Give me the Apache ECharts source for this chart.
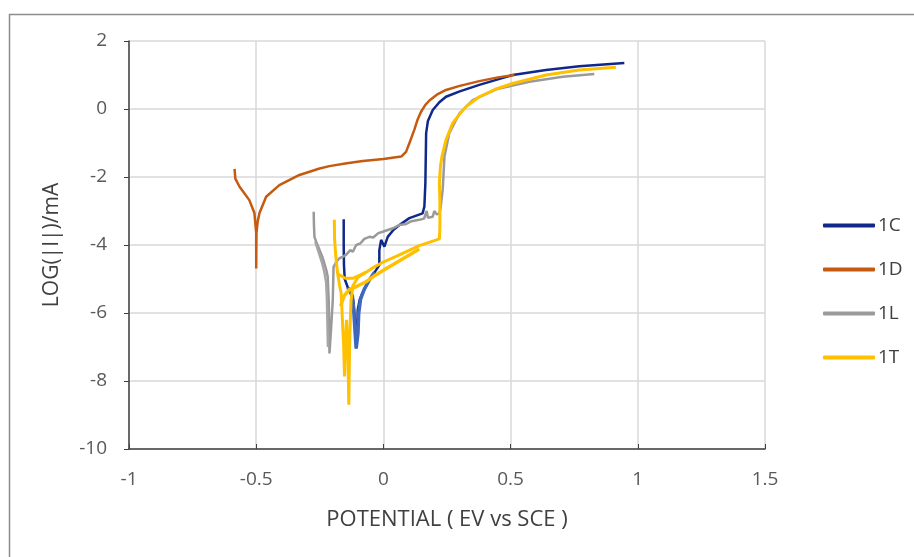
<!DOCTYPE html>
<html>
<head>
<meta charset="utf-8">
<script src="https://cdn.jsdelivr.net/npm/echarts@6/dist/echarts.min.js"></script>
<style>
html,body{margin:0;padding:0;background:#fff;}
#chart{width:914px;height:557px;}
</style>
</head>
<body>
<div id="chart"></div>
<script>
// ---- Data (potential V vs SCE, log|I|) ----
var seriesNames = ['1C', '1D', '1L', '1T'];
var xTicks = [-1, -0.5, 0, 0.5, 1, 1.5];
var yTicks = [-10, -8, -6, -4, -2, 0, 2];

var data1C = [
  [-0.156,-3.24],[-0.156,-4.0],[-0.155,-4.6],[-0.152,-5.0],[-0.14,-5.25],[-0.125,-5.4],
  [-0.117,-5.7],[-0.112,-6.2],[-0.109,-6.7],[-0.107,-7.04],[-0.103,-6.6],[-0.101,-5.91],
  [-0.093,-5.6],[-0.083,-5.42],[-0.055,-5.03],[-0.029,-4.74],[-0.016,-4.59],[-0.016,-4.15],
  [-0.009,-3.85],[0.004,-4.05],[0.017,-3.76],[0.04,-3.55],[0.063,-3.41],[0.102,-3.21],
  [0.154,-3.07],[0.161,-2.87],[0.165,-2.18],[0.168,-0.71],[0.175,-0.35],[0.194,-0.03],
  [0.22,0.2],[0.246,0.36],[0.3,0.52],[0.377,0.71],[0.45,0.87],[0.508,1.0],[0.639,1.15],
  [0.77,1.26],[0.947,1.35]
];
var data1Cb = [
  [-0.14,-5.25],[-0.122,-5.5],[-0.116,-6.0],[-0.111,-6.6],[-0.107,-7.04],[-0.1,-6.6],
  [-0.097,-6.0],[-0.09,-5.6],[-0.075,-5.3],[-0.055,-5.03],[-0.035,-4.8]
];
var data1D = [
  [-0.585,-1.76],[-0.582,-2.05],[-0.566,-2.28],[-0.527,-2.68],[-0.507,-3.06],[-0.5,-3.65],
  [-0.5,-4.69],[-0.499,-3.65],[-0.494,-3.3],[-0.487,-3.06],[-0.461,-2.58],[-0.409,-2.24],
  [-0.33,-1.94],[-0.251,-1.75],[-0.212,-1.68],[-0.15,-1.6],[-0.081,-1.53],[0.0,-1.47],
  [0.07,-1.4],[0.089,-1.26],[0.105,-0.95],[0.122,-0.6],[0.135,-0.3],[0.148,-0.08],
  [0.165,0.12],[0.181,0.25],[0.21,0.42],[0.246,0.56],[0.3,0.68],[0.377,0.82],[0.45,0.93],
  [0.515,1.0]
];
var data1L = [
  [-0.274,-3.02],[-0.273,-3.4],[-0.271,-3.76],[-0.262,-3.95],[-0.251,-4.15],[-0.24,-4.35],
  [-0.232,-4.54],[-0.224,-4.75],[-0.219,-4.93],[-0.217,-5.3],[-0.215,-5.62],[-0.213,-6.4],
  [-0.212,-7.19],[-0.206,-6.5],[-0.199,-5.62],[-0.197,-5.0],[-0.196,-4.64],[-0.185,-4.5],
  [-0.173,-4.39],[-0.16,-4.35],[-0.147,-4.29],[-0.13,-4.15],[-0.12,-4.2],[-0.107,-4.0],
  [-0.09,-3.95],[-0.075,-3.82],[-0.055,-3.76],[-0.04,-3.78],[-0.02,-3.65],[-0.003,-3.61],
  [0.02,-3.55],[0.04,-3.5],[0.063,-3.41],[0.09,-3.38],[0.11,-3.3],[0.141,-3.26],
  [0.16,-3.22],[0.17,-3.0],[0.175,-3.2],[0.194,-3.17],[0.2,-3.0],[0.21,-3.1],[0.22,-3.07],
  [0.225,-2.9],[0.233,-2.38],[0.24,-1.4],[0.259,-0.71],[0.299,-0.13],[0.351,0.26],
  [0.443,0.58],[0.574,0.8],[0.705,0.95],[0.829,1.03]
];
var data1Lb = [
  [-0.268,-3.9],[-0.255,-4.2],[-0.242,-4.5],[-0.232,-4.8],[-0.225,-5.1],[-0.222,-5.6],
  [-0.22,-6.3],[-0.218,-7.0]
];
var data1T = [
  [-0.193,-3.26],[-0.192,-3.8],[-0.189,-4.15],[-0.185,-4.5],[-0.18,-4.83],[-0.172,-5.2],
  [-0.166,-5.42],[-0.163,-5.9],[-0.16,-6.4],[-0.156,-7.0],[-0.153,-7.87],[-0.15,-7.0],
  [-0.145,-6.2],[-0.14,-7.0],[-0.136,-8.7],[-0.133,-7.0],[-0.13,-6.2],[-0.127,-5.62],
  [-0.12,-5.2],[-0.1,-4.95],[-0.068,-4.8],[-0.03,-4.62],[0.0,-4.5],[0.063,-4.29],
  [0.141,-4.02],[0.2,-3.87],[0.22,-3.82],[0.222,-3.5],[0.222,-2.68],[0.22,-2.19],
  [0.224,-1.7],[0.23,-1.4],[0.246,-0.91],[0.272,-0.42],[0.3,-0.15],[0.325,0.07],
  [0.377,0.36],[0.44,0.58],[0.508,0.75],[0.639,1.0],[0.77,1.15],[0.914,1.23]
];
var data1Tb = [
  [-0.168,-5.8],[-0.155,-5.5],[-0.135,-5.32],[-0.1,-5.2],[-0.068,-5.08],[-0.03,-4.88],
  [0.0,-4.74],[0.05,-4.52],[0.1,-4.3],[0.141,-4.12]
];
var data1Tc = [
  [-0.178,-4.85],[-0.15,-4.98],[-0.12,-4.98],[-0.09,-4.88],[-0.068,-4.8]
];

var FONT = '"Open Sans", "Noto Sans", sans-serif';
var chart = echarts.init(document.getElementById('chart'));

function lineSeries(name, data, color, width, z) {
  return {
    name: name, type: 'line', data: data, showSymbol: false, symbol: 'none',
    lineStyle: {color: color, width: width}, itemStyle: {color: color},
    animation: false, z: z
  };
}

chart.setOption({
  backgroundColor: '#fff',
  animation: false,
  graphic: [{
    type: 'rect', left: 7, top: 12, silent: true,
    shape: {width: 920, height: 600},
    style: {fill: 'none', stroke: '#8c8c8c', lineWidth: 1.5}
  }],
  grid: {left: 129, right: 149, top: 41, bottom: 108},
  legend: {
    orient: 'vertical', left: 818, top: 211, itemGap: 25,
    itemWidth: 52, itemHeight: 4, icon: 'roundRect',
    data: seriesNames,
    textStyle: {fontFamily: FONT, fontSize: 19, color: '#404040', padding: [0,0,0,-2]}
  },
  xAxis: {
    type: 'value', min: -1, max: 1.5, interval: 0.5,
    name: 'POTENTIAL ( EV vs SCE )', nameLocation: 'middle', nameGap: 60,
    nameTextStyle: {fontFamily: FONT, fontSize: 22, color: '#404040'},
    axisLine: {show: true, onZero: false, lineStyle: {color: '#404040', width: 1.5}},
    axisTick: {show: true, inside: true, length: 5, lineStyle: {color: '#404040'}},
    axisLabel: {fontFamily: FONT, fontSize: 19, color: '#595959', margin: 21},
    splitLine: {show: true, lineStyle: {color: '#D9D9D9', width: 1.5}}
  },
  yAxis: {
    type: 'value', min: -10, max: 2, interval: 2,
    name: 'LOG(|I|)/mA', nameLocation: 'middle', nameGap: 66, nameRotate: 90,
    nameTextStyle: {fontFamily: FONT, fontSize: 21, color: '#404040'},
    axisLine: {show: true, onZero: false, lineStyle: {color: '#404040', width: 1.5}},
    axisTick: {show: true, inside: false, length: 5, lineStyle: {color: '#404040'}},
    axisLabel: {fontFamily: FONT, fontSize: 19, color: '#595959', margin: 22},
    splitLine: {show: true, lineStyle: {color: '#D9D9D9', width: 1.5}}
  },
  series: [
    lineSeries('1C', data1C, '#10288A', 2.5, 3),
    lineSeries('1C b', data1Cb, '#3D68BE', 3.5, 3),
    lineSeries('1D', data1D, '#C55A11', 2.5, 4),
    lineSeries('1L', data1L, '#9A9A9A', 2.5, 5),
    lineSeries('1L b', data1Lb, '#A6A6A6', 2.5, 5),
    lineSeries('1T', data1T, '#FFC000', 3, 6),
    lineSeries('1T b', data1Tb, '#FFC000', 3.5, 6),
    lineSeries('1T c', data1Tc, '#FFC000', 3, 6)
  ]
});
</script>
</body>
</html>
